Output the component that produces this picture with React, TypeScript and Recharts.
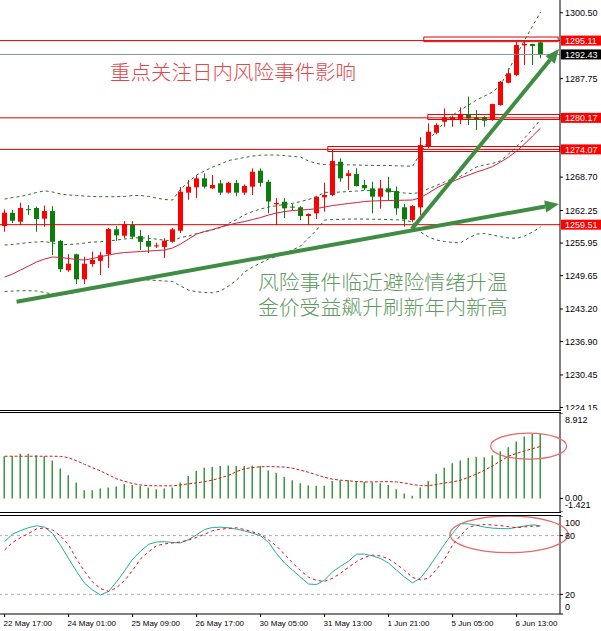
import React from 'react';
import {
  ComposedChart,
  Bar,
  Line,
  XAxis,
  YAxis,
  ReferenceLine,
  ReferenceArea,
  ReferenceDot,
} from 'recharts';

// H4 bars, one every 4 hours, 22 May 17:00 .. 6 Jun
const tickIdx = [0, 8, 16, 24, 32, 40, 48, 56, 64];
const tickLabels = [
  '22 May 17:00',
  '24 May 01:00',
  '25 May 09:00',
  '26 May 17:00',
  '30 May 05:00',
  '31 May 13:00',
  '1 Jun 21:00',
  '5 Jun 05:00',
  '6 Jun 13:00',
];

const open = [
  1259.25, 1261.82, 1260.08, 1262.5, 1262.73, 1260.66, 1262.15, 1256.35, 1250.68, 1253.78,
  1248.94, 1251.9, 1252.5, 1253.8, 1258.6, 1257.37, 1259.44, 1257.3, 1256.35, 1255.3,
  1255.2, 1256.2, 1258.34, 1265.7, 1266.73, 1268.47, 1266.54, 1267.5, 1265.7, 1267.6,
  1265.7, 1266.85, 1269.95, 1267.8, 1263.45, 1263.95, 1263.0, 1262.87, 1261.18, 1261.7,
  1264.8, 1265.25, 1271.68, 1268.92, 1269.3, 1267.18, 1266.54, 1264.92, 1266.54, 1266.02,
  1262.87, 1260.41, 1262.87, 1274.72, 1277.29, 1279.42, 1279.88, 1279.75, 1280.85, 1280.27,
  1280.27, 1279.75, 1282.65, 1286.96, 1288.45, 1294.19, 1294.45, 1294.77,
];
const high = [
  1262.48, 1262.34, 1263.75, 1263.3, 1263.0, 1263.2, 1263.1, 1256.54, 1253.8, 1253.9,
  1253.31, 1254.28, 1254.28, 1258.9, 1259.25, 1260.2, 1260.2, 1258.5, 1257.5, 1256.0,
  1256.9, 1258.9, 1266.8, 1268.15, 1269.1, 1269.44, 1269.1, 1268.15, 1267.8, 1268.15,
  1267.3, 1270.4, 1270.4, 1268.2, 1264.66, 1264.66, 1263.5, 1263.1, 1261.7, 1265.1,
  1267.62, 1274.07, 1272.34, 1270.08, 1270.41, 1268.15, 1267.82, 1268.15, 1268.78, 1266.9,
  1263.5, 1263.3, 1276.4, 1279.11, 1279.11, 1282.01, 1280.6, 1282.2, 1284.28, 1281.68,
  1280.5, 1282.9, 1287.3, 1289.75, 1294.89, 1295.11, 1294.5, 1294.89,
];
const low = [
  1258.15, 1259.83, 1259.44, 1261.4, 1258.15, 1259.1, 1253.6, 1250.35, 1250.4, 1248.03,
  1248.03, 1251.4, 1249.77, 1251.1, 1256.4, 1256.9, 1256.7, 1254.6, 1254.0, 1255.0,
  1253.05, 1256.0, 1257.9, 1264.3, 1264.66, 1266.5, 1266.4, 1265.25, 1265.5, 1265.0,
  1265.25, 1265.25, 1266.85, 1261.7, 1259.44, 1260.8, 1262.3, 1260.41, 1259.44, 1260.6,
  1262.02, 1265.0, 1267.82, 1266.21, 1266.9, 1266.21, 1261.7, 1262.6, 1264.2, 1261.4,
  1259.12, 1260.0, 1261.38, 1274.28, 1277.0, 1278.45, 1278.45, 1278.97, 1278.78, 1277.81,
  1278.45, 1279.6, 1282.5, 1286.85, 1288.2, 1290.38, 1290.38, 1291.68,
];
const close = [
  1261.82, 1260.28, 1262.73, 1262.4, 1260.6, 1262.15, 1256.2, 1250.9, 1251.96, 1248.94,
  1251.96, 1252.7, 1253.6, 1258.67, 1257.45, 1259.58, 1257.18, 1256.2, 1255.25, 1255.5,
  1256.4, 1258.6, 1265.88, 1266.85, 1268.47, 1266.85, 1267.18, 1265.7, 1267.6, 1265.7,
  1267.0, 1269.75, 1267.6, 1263.99, 1263.7, 1262.67, 1262.9, 1261.18, 1261.57, 1264.92,
  1265.25, 1271.82, 1268.47, 1269.44, 1266.98, 1266.54, 1264.92, 1266.54, 1265.77, 1262.67,
  1260.55, 1263.12, 1274.91, 1277.48, 1278.78, 1280.27, 1280.27, 1280.85, 1280.08, 1279.88,
  1279.61, 1282.84, 1287.15, 1288.78, 1294.25, 1294.45, 1294.06, 1292.43,
];

// Bollinger bands (dashed) and the red moving average
const bbUpper = [
  1264.47, 1264.76, 1264.96, 1265.34, 1265.73, 1266.06, 1265.83, 1265.44, 1265.25, 1265.15,
  1265.05, 1264.96, 1264.92, 1264.92, 1264.92, 1264.96, 1265.15, 1265.15, 1264.96, 1264.66,
  1264.38, 1264.28, 1266.41, 1267.76, 1269.11, 1269.89, 1270.66, 1271.24, 1271.92, 1272.21,
  1272.5, 1272.79, 1272.94, 1272.98, 1272.98, 1272.88, 1272.69, 1272.59, 1271.82, 1271.34,
  1271.14, 1271.05, 1271.1, 1271.08, 1271.05, 1271.0, 1270.98, 1270.95, 1270.95, 1270.9,
  1270.85, 1270.8, 1273.37, 1275.88, 1277.62, 1279.36, 1280.72, 1281.68, 1282.65, 1283.62,
  1284.39, 1285.16, 1286.52, 1289.42, 1292.32, 1295.22, 1297.93, 1300.64,
];
const bbMiddle = [
  1255.58, 1255.67, 1255.87, 1256.06, 1256.16, 1256.25, 1255.96, 1255.67, 1255.67, 1255.77,
  1255.96, 1256.16, 1256.21, 1256.35, 1256.54, 1256.74, 1256.93, 1256.97, 1256.89, 1256.7,
  1256.5, 1256.39, 1257.03, 1257.32, 1257.8, 1258.15, 1258.52, 1258.96, 1259.77, 1260.51,
  1261.42, 1262.05, 1262.54, 1262.92, 1263.16, 1263.45, 1263.64, 1263.99, 1264.38, 1264.92,
  1265.77, 1265.73, 1265.83, 1265.92, 1266.02, 1266.12, 1266.12, 1266.12, 1266.02, 1265.83,
  1265.63, 1265.54, 1265.73, 1266.5, 1267.08, 1267.8, 1268.38, 1268.86, 1269.79, 1270.66,
  1271.09, 1271.34, 1271.86, 1273.17, 1274.59, 1276.27, 1278.01, 1279.85,
];
const bbLower = [
  1246.58, 1246.68, 1246.74, 1246.74, 1246.68, 1246.39, 1246.1, 1245.91, 1246.1, 1246.49,
  1246.87, 1247.26, 1247.51, 1247.84, 1248.23, 1248.52, 1248.71, 1248.81, 1248.81, 1248.71,
  1248.61, 1248.52, 1247.65, 1246.87, 1246.54, 1246.39, 1246.35, 1246.68, 1247.65, 1248.81,
  1250.35, 1251.32, 1252.09, 1252.87, 1253.35, 1254.03, 1254.61, 1255.38, 1256.93, 1258.48,
  1260.41, 1260.5, 1260.55, 1260.6, 1260.6, 1260.6, 1260.55, 1260.55, 1260.5, 1260.45,
  1260.35, 1260.02, 1258.09, 1257.12, 1256.54, 1256.25, 1256.06, 1256.02, 1256.93, 1257.7,
  1257.8, 1257.51, 1257.18, 1256.93, 1256.87, 1257.32, 1258.09, 1259.06,
];
const maRed = [
  1249.39, 1249.97, 1250.74, 1251.51, 1252.29, 1252.87, 1253.26, 1253.16, 1252.97, 1252.77,
  1252.68, 1252.97, 1253.31, 1253.64, 1253.93, 1254.13, 1254.22, 1254.32, 1254.42, 1254.51,
  1254.61, 1255.0, 1255.77, 1256.74, 1257.7, 1258.19, 1258.57, 1259.06, 1259.44, 1259.83,
  1260.12, 1260.51, 1260.89, 1261.38, 1261.76, 1262.05, 1262.25, 1262.34, 1262.44, 1262.63,
  1262.92, 1263.21, 1263.41, 1263.6, 1263.79, 1263.99, 1264.09, 1264.14, 1264.18, 1264.22,
  1264.24, 1264.28, 1264.76, 1265.63, 1266.6, 1267.37, 1267.86, 1268.53, 1269.11, 1269.69,
  1270.18, 1270.76, 1271.63, 1272.59, 1273.75, 1275.11, 1276.66, 1278.2,
];

// MACD panel
const macdHist = [
  4.4, 4.4, 4.65, 4.65, 4.51, 4.4, 3.96, 3.13, 2.41, 1.65,
  0.86, 0.86, 1.03, 1.14, 1.24, 1.48, 1.41, 1.31, 1.14, 0.96,
  1.03, 1.14, 1.65, 2.34, 2.86, 3.2, 3.27, 3.37, 3.44, 3.37,
  3.37, 3.44, 3.37, 2.92, 2.68, 2.24, 1.89, 1.58, 1.38, 1.31,
  1.31, 1.82, 1.89, 1.89, 1.82, 1.72, 1.65, 1.58, 1.41, 0.96,
  0.52, 0.28, 1.14, 1.82, 2.58, 3.2, 3.68, 3.96, 4.23, 4.34,
  4.3, 4.51, 4.92, 5.33, 5.95, 6.47, 6.71, 6.71,
];
const macdSignal = [
  4.4, 4.4, 4.4, 4.4, 4.4, 4.4, 4.4, 4.38, 4.25, 3.92,
  3.55, 3.2, 2.86, 2.45, 2.05, 1.78, 1.55, 1.4, 1.33, 1.31,
  1.31, 1.31, 1.4, 1.52, 1.62, 1.75, 1.9, 2.15, 2.4, 2.8,
  3.1, 3.22, 3.3, 3.32, 3.3, 3.27, 3.15, 2.95, 2.72, 2.45,
  2.2, 2.0, 1.9, 1.83, 1.76, 1.72, 1.72, 1.74, 1.75, 1.72,
  1.6, 1.45, 1.33, 1.33, 1.45, 1.6, 1.72, 1.9, 2.2, 2.55,
  2.95, 3.4, 3.9, 4.4, 4.7, 4.95, 5.2, 5.42,
];

// Stochastic panel
const stochMain = [
  73.8, 81.5, 85.1, 88.1, 90.1, 88.6, 82.2, 70.0, 56.6, 43.4,
  31.4, 24.5, 19.4, 23.1, 32.9, 43.9, 55.9, 64.2, 71.1, 73.5,
  73.8, 72.9, 72.5, 75.9, 80.8, 86.3, 88.3, 88.6, 88.0, 86.6,
  84.8, 82.5, 79.7, 73.1, 61.5, 51.9, 44.7, 37.5, 30.6, 30.1,
  34.6, 43.1, 48.7, 53.9, 61.1, 61.1, 59.3, 56.6, 51.9, 44.7,
  37.6, 31.7, 36.8, 47.3, 59.3, 71.3, 82.5, 92.1, 92.0, 90.5,
  88.7, 87.6, 87.2, 87.0, 88.4, 89.8, 91.0, 89.9,
];
const stochSignal = [
  65.3, 73.2, 77.9, 82.3, 86.8, 87.9, 85.8, 79.5, 70.4, 56.0,
  43.4, 32.5, 25.9, 23.1, 26.7, 34.3, 44.5, 56.4, 63.5, 69.8,
  71.5, 72.5, 73.6, 75.5, 78.2, 81.4, 85.0, 86.6, 87.3, 88.0,
  86.2, 83.7, 81.2, 75.6, 69.3, 60.8, 52.2, 44.4, 37.5, 34.2,
  33.3, 36.5, 41.7, 47.7, 53.4, 57.9, 60.1, 59.2, 56.2, 50.8,
  44.4, 37.2, 34.8, 36.5, 45.5, 56.0, 70.4, 80.2, 88.7, 90.4,
  91.3, 90.8, 90.2, 89.1, 88.0, 88.9, 89.6, 89.6,
];

const priceTicks = [
  1300.5, 1287.75, 1268.7, 1262.25, 1255.95, 1249.65, 1243.2, 1236.9, 1230.45, 1224.15,
];
const levelPrices = [1295.11, 1280.17, 1274.07, 1259.51];
const lastPrice = 1292.43;
// rectangles drawn on the levels: bar index span and price span
const levelBoxes = [
  { x1: 52.4, x2: 69.2, y1: 1294.9, y2: 1295.8 },
  { x1: 52.9, x2: 69.4, y1: 1279.85, y2: 1280.82 },
  { x1: 40.4, x2: 69.4, y1: 1273.66, y2: 1274.63 },
];
// hand drawn arrows: from [bar, price] to [bar, price]
const arrows = [
  [
    [1.5, 1244.61],
    [69.3, 1263.51],
  ],
  [
    [50.9, 1258.67],
    [69.3, 1293.48],
  ],
];
const notes = [
  { text: '重点关注日内风险事件影响', left: 110, top: 61, size: 20.5, color: '#e2474c' },
  { text: '风险事件临近避险情绪升温', left: 258, top: 271, size: 20.8, color: '#5f9a62' },
  { text: '金价受益飙升刷新年内新高', left: 258, top: 296, size: 20.8, color: '#5f9a62' },
];

const rows = open.map((o, i) => ({
  i,
  open: o,
  high: high[i],
  low: low[i],
  close: close[i],
  range: [low[i], high[i]],
  bbUp: bbUpper[i],
  bbMid: bbMiddle[i],
  bbLow: bbLower[i],
  ma: maRed[i],
  hist: macdHist[i],
  sig: macdSignal[i],
  k: stochMain[i],
  d: stochSignal[i],
}));

const FONT = '"Liberation Sans", Arial, sans-serif';
const CJK = '"Noto Sans CJK SC", "Noto Sans CJK JP", sans-serif';
const UP = '#ff0000';
const DOWN = '#0b7d0b';
const LEVEL = '#e00000';
const BAND = '#2f6a33';
const ARROW = '#3f8c43';
const X_DOMAIN = [-0.575, 69.425];
const CHART_W = 601;
const AXIS_W = 41;

function Candle(props: any) {
  const { x, y, width, height, payload } = props;
  const top = Math.min(y, y + height);
  const h = Math.abs(height);
  const k = h / (payload.high - payload.low);
  const py = (p: number) => top + (payload.high - p) * k;
  const c = Math.round(x + width / 2);
  const col = payload.close >= payload.open ? UP : DOWN;
  const bTop = py(Math.max(payload.open, payload.close));
  const bBot = py(Math.min(payload.open, payload.close));
  return (
    <g>
      <line x1={c + 0.5} x2={c + 0.5} y1={top} y2={top + h} stroke={col} />
      <rect x={c - 2} y={bTop} width={5} height={Math.max(1, bBot - bTop)} fill={col} />
    </g>
  );
}

function tagLine(color: string, tagFill: string, text: string) {
  return (p: any) => {
    const xr = Math.max(p.x1, p.x2);
    const xl = Math.min(p.x1, p.x2);
    const yy = p.y1;
    return (
      <g>
        <line x1={xl} y1={yy} x2={xr} y2={yy} stroke={color} strokeWidth={1} />
        <rect x={xr + 1} y={yy - 5} width={40} height={10} fill={tagFill} />
        <text x={xr + 5} y={yy} dy="0.36em" fill="#fff" fontSize={9} fontFamily={FONT}>
          {text}
        </text>
      </g>
    );
  };
}

function Arrow(p: any) {
  const { x1, y1, x2, y2 } = p;
  const dx = x2 - x1;
  const dy = y2 - y1;
  const len = Math.hypot(dx, dy);
  const ux = dx / len;
  const uy = dy / len;
  const hl = 14;
  const hw = 6;
  const bx = x2 - ux * hl;
  const by = y2 - uy * hl;
  return (
    <g>
      <line x1={x1} y1={y1} x2={bx} y2={by} stroke={ARROW} strokeWidth={4} />
      <polygon
        points={`${x2},${y2} ${bx - uy * hw},${by + ux * hw} ${bx + uy * hw},${by - ux * hw}`}
        fill={ARROW}
      />
    </g>
  );
}

function sideTick(labels: Record<string, string>, shift: Record<string, number>) {
  return (p: any) => {
    const v = String(p.payload.value);
    return (
      <text
        x={p.x}
        y={p.y + (shift[v] || 0)}
        dy="0.36em"
        textAnchor="start"
        fontSize={9}
        fontFamily={FONT}
        fill="#000"
      >
        {labels[v] ?? v}
      </text>
    );
  };
}

function TimeTick(p: any) {
  const label = tickLabels[tickIdx.indexOf(p.payload.value)];
  return (
    <text x={p.x - 1} y={p.y + 1} dy="0.71em" textAnchor="start" fontSize={8} fontFamily={FONT} fill="#000">
      {label}
    </text>
  );
}

const rule = (top: number) => (
  <div style={{ position: 'absolute', left: 0, top, width: 561, height: 1, background: '#000' }} />
);

export default function App() {
  return (
    <div
      style={{
        position: 'absolute',
        left: 0,
        top: 0,
        width: 601,
        height: 631,
        background: '#fff',
        fontFamily: FONT,
        overflow: 'hidden',
      }}
    >
      <div style={{ position: 'absolute', left: 0, top: 0 }}>
        <ComposedChart width={CHART_W} height={410} data={rows} margin={{ top: 0, right: 0, bottom: 0, left: 0 }}>
          <XAxis type="number" dataKey="i" domain={X_DOMAIN} allowDataOverflow hide />
          <YAxis
            orientation="right"
            width={AXIS_W}
            domain={[1223.67, 1302.96]}
            allowDataOverflow
            ticks={priceTicks}
            interval={0}
            tickSize={3}
            tickLine={{ stroke: '#000' }}
            axisLine={{ stroke: '#000' }}
            tick={{ fontSize: 9, fill: '#000', fontFamily: FONT }}
            tickFormatter={(v: number) => v.toFixed(2)}
          />
          {levelBoxes.map((b, n) => (
            <ReferenceArea
              key={'box' + n}
              x1={b.x1}
              x2={b.x2}
              y1={b.y1}
              y2={b.y2}
              fill="none"
              fillOpacity={0}
              stroke={LEVEL}
              strokeWidth={1}
            />
          ))}
          <ReferenceLine y={lastPrice} shape={tagLine('#8593a0', '#000', lastPrice.toFixed(2))} />
          {levelPrices.map((v) => (
            <ReferenceLine key={'lv' + v} y={v} shape={tagLine(LEVEL, '#ff0000', v.toFixed(2))} />
          ))}
          <Line type="linear" dataKey="bbUp" stroke={BAND} strokeDasharray="3 3" dot={false} activeDot={false} isAnimationActive={false} />
          <Line type="linear" dataKey="bbMid" stroke={BAND} strokeDasharray="3 3" dot={false} activeDot={false} isAnimationActive={false} />
          <Line type="linear" dataKey="bbLow" stroke={BAND} strokeDasharray="3 3" dot={false} activeDot={false} isAnimationActive={false} />
          <Line type="linear" dataKey="ma" stroke="#d4213c" dot={false} activeDot={false} isAnimationActive={false} />
          <Bar dataKey="range" barSize={7} shape={(p: any) => <Candle {...p} />} activeBar={false} isAnimationActive={false} />
          {arrows.map((a, n) => (
            <ReferenceLine
              key={'ar' + n}
              segment={[
                { x: a[0][0], y: a[0][1] },
                { x: a[1][0], y: a[1][1] },
              ]}
              shape={(p: any) => <Arrow {...p} />}
            />
          ))}
        </ComposedChart>
      </div>

      {rule(410)}
      {rule(412)}

      <div style={{ position: 'absolute', left: 0, top: 413 }}>
        <ComposedChart width={CHART_W} height={99} data={rows} margin={{ top: 0, right: 0, bottom: 0, left: 0 }}>
          <XAxis type="number" dataKey="i" domain={X_DOMAIN} allowDataOverflow hide />
          <YAxis
            orientation="right"
            width={AXIS_W}
            domain={[-1.421, 8.912]}
            allowDataOverflow
            ticks={[8.912, 0, -1.421]}
            interval={0}
            tickSize={3}
            tickLine={{ stroke: '#000' }}
            axisLine={{ stroke: '#000' }}
            tick={sideTick({ '8.912': '8.912', '0': '0.00', '-1.421': '-1.421' }, { '8.912': 7, '0': -1, '-1.421': -7 })}
          />
          <Bar dataKey="hist" barSize={1.2} fill={DOWN} activeBar={false} isAnimationActive={false} />
          <Line type="linear" dataKey="sig" stroke="#d01818" strokeDasharray="3 2" dot={false} activeDot={false} isAnimationActive={false} />
          <ReferenceDot
            x={65.5}
            y={5.45}
            shape={(p: any) => (
              <ellipse cx={p.cx} cy={p.cy} rx={38} ry={13} fill="none" stroke="#e36a6a" strokeWidth={1.3} />
            )}
          />
        </ComposedChart>
      </div>

      {rule(512)}
      {rule(515)}

      <div style={{ position: 'absolute', left: 0, top: 516 }}>
        <ComposedChart width={CHART_W} height={115} data={rows} margin={{ top: 0, right: 0, bottom: 0, left: 0 }}>
          <XAxis
            type="number"
            dataKey="i"
            domain={X_DOMAIN}
            allowDataOverflow
            ticks={tickIdx}
            interval={0}
            height={17}
            tickSize={3}
            tickLine={{ stroke: '#000' }}
            axisLine={{ stroke: '#000' }}
            tick={<TimeTick />}
          />
          <YAxis
            orientation="right"
            width={AXIS_W}
            domain={[0, 100]}
            allowDataOverflow
            ticks={[100, 80, 20, 0]}
            interval={0}
            tickSize={3}
            tickLine={{ stroke: '#000' }}
            axisLine={{ stroke: '#000' }}
            tick={sideTick({}, { '100': 7, '0': -7 })}
          />
          <ReferenceLine y={80} stroke="#b0b0b0" strokeDasharray="3 3" />
          <ReferenceLine y={20} stroke="#b0b0b0" strokeDasharray="3 3" />
          <Line type="linear" dataKey="k" stroke="#22aaa0" dot={false} activeDot={false} isAnimationActive={false} />
          <Line type="linear" dataKey="d" stroke="#e01010" strokeDasharray="3 3" dot={false} activeDot={false} isAnimationActive={false} />
          <ReferenceDot
            x={63.05}
            y={81.3}
            shape={(p: any) => (
              <ellipse cx={p.cx} cy={p.cy} rx={59} ry={18.3} fill="none" stroke="#e36a6a" strokeWidth={1.3} />
            )}
          />
        </ComposedChart>
      </div>

      {notes.map((n) => (
        <div
          key={n.text}
          style={{
            position: 'absolute',
            left: n.left,
            top: n.top,
            fontFamily: CJK,
            fontSize: n.size,
            lineHeight: 1,
            color: n.color,
            whiteSpace: 'nowrap',
            fontWeight: 300,
          }}
        >
          {n.text}
        </div>
      ))}
    </div>
  );
}
